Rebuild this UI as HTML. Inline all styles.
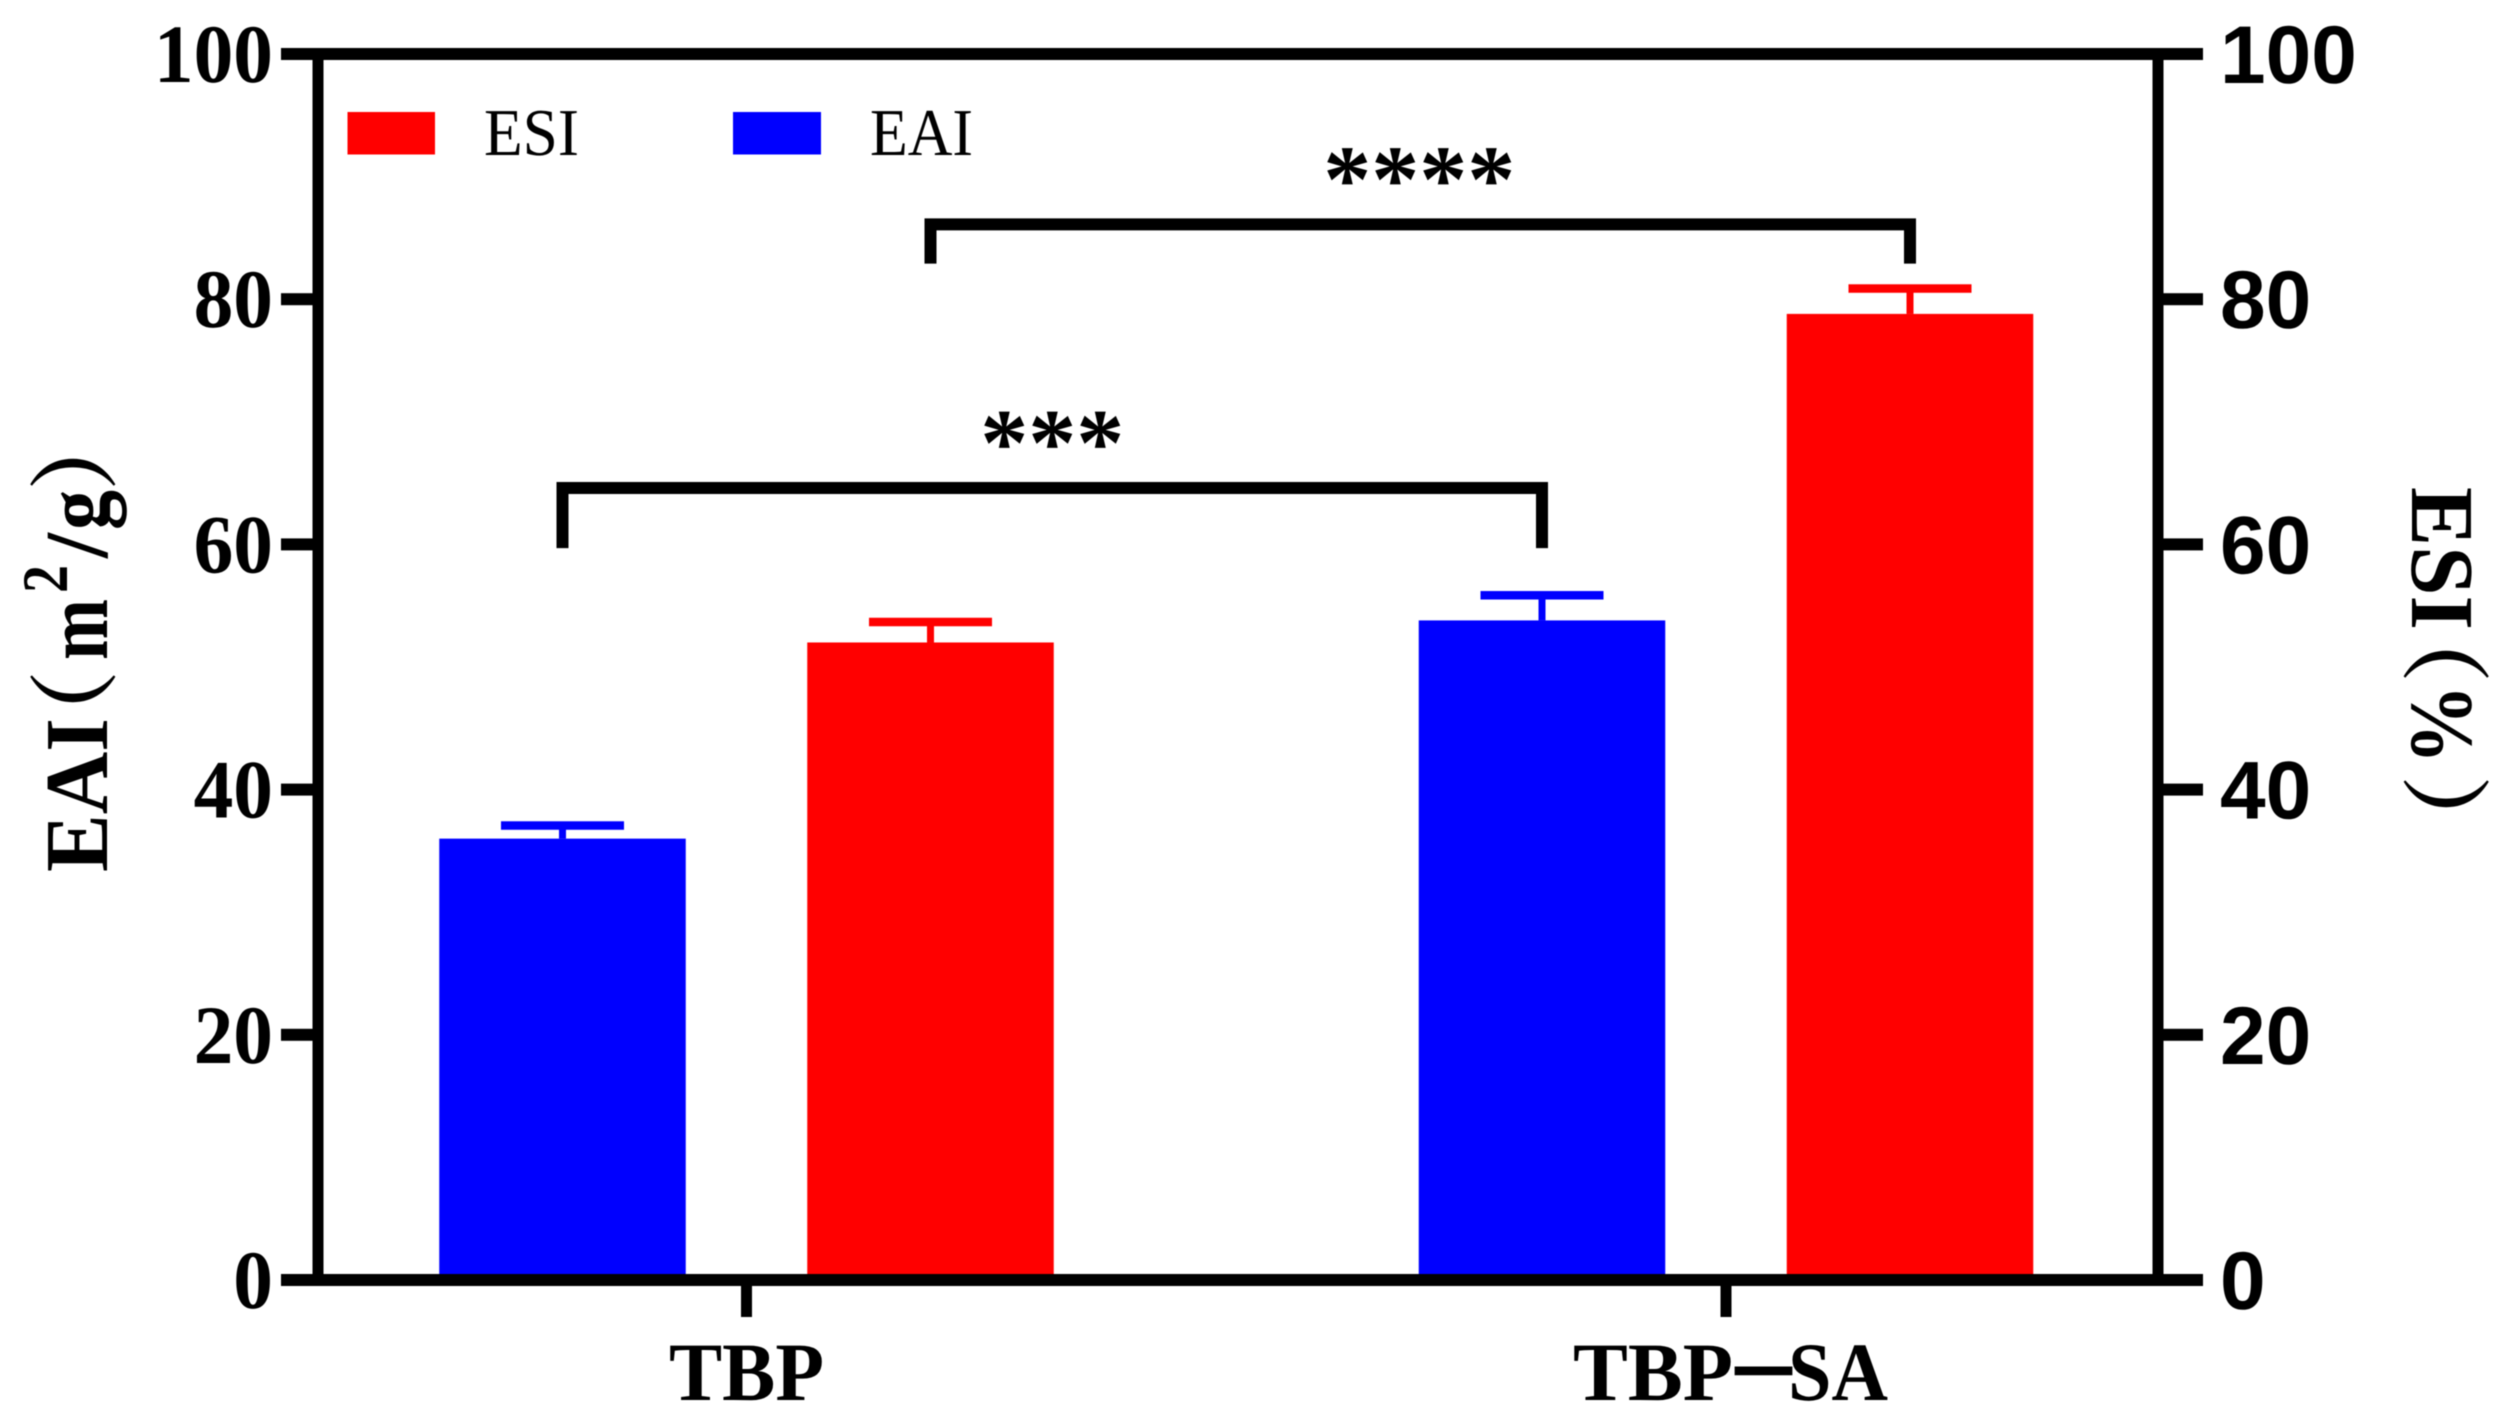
<!DOCTYPE html>
<html lang="en">
<head>
<meta charset="utf-8">
<title>EAI and ESI of TBP and TBP-SA</title>
<style>
html,body{margin:0;padding:0;background:#fff;}
svg{display:block;filter:blur(.6px);}
text{font-family:"Liberation Serif","Noto Serif CJK SC",serif;fill:#000;text-rendering:geometricPrecision;}
.b{font-weight:700;}
.sans{font-family:"Liberation Sans",sans-serif;font-weight:700;}
</style>
</head>
<body>
<svg id="chart" xmlns="http://www.w3.org/2000/svg" width="2499" height="1419" viewBox="0 0 2499 1419">
  <rect x="0" y="0" width="2499" height="1419" fill="#fff"/>
  <g id="bars"></g>
  <g id="axes"></g>
  <g id="brackets"></g>
  <g>
    <rect x="347.5" y="112" width="87.5" height="42.5" fill="#ff0000"/>
    <text x="484" y="155" font-size="67" textLength="95" lengthAdjust="spacingAndGlyphs">ESI</text>
    <rect x="733" y="112" width="88" height="42.5" fill="#0000ff"/>
    <text x="870" y="155" font-size="67" textLength="103" lengthAdjust="spacingAndGlyphs">EAI</text>
  </g>
  <text class="b" transform="translate(107,872) rotate(-90)" font-size="90"><tspan x="0" textLength="154" lengthAdjust="spacingAndGlyphs">EAI</tspan><tspan x="112">（</tspan><tspan x="212" textLength="61" lengthAdjust="spacingAndGlyphs">m</tspan><tspan x="279" y="-40" font-size="65" textLength="28" lengthAdjust="spacingAndGlyphs">2</tspan><tspan x="314" y="0">/</tspan><tspan x="342" textLength="40" lengthAdjust="spacingAndGlyphs">g</tspan><tspan x="381">）</tspan></text>
  <text class="b" transform="translate(2412,487) rotate(90)" font-size="90"><tspan x="0" textLength="143" lengthAdjust="spacingAndGlyphs">ESI</tspan><tspan x="106">（</tspan><tspan x="197" textLength="80" lengthAdjust="spacingAndGlyphs">%</tspan><tspan x="288">）</tspan></text>
</svg>
<script>
const categories = ["TBP", "TBP\u2014SA"];
const eaiValues = [36.0, 53.8];
const esiValues = [52.0, 78.8];
const eaiErrors = [1.07, 2.05];
const esiErrors = [1.67, 2.07];
const leftTicks = [0, 20, 40, 60, 80, 100];
const rightTicks = [0, 20, 40, 60, 80, 100];
const bracketStars = ["***", "****"];
const bracketLevels = [64.6, 86.1];
const bracketLegEnds = [59.7, 82.9];

const NS = "http://www.w3.org/2000/svg";
const BLUE = "#0000ff", RED = "#ff0000";
function yScale(v) { return 1280 - v * 12.26; }
function xCategory(i) { return 746.5 + i * 979.5; }
function xEai(i) { return xCategory(i) - 184; }
function xEsi(i) { return xCategory(i) + 184; }
function make(tag, attrs, parent, text) {
  const el = document.createElementNS(NS, tag);
  for (const k in attrs) el.setAttribute(k, attrs[k]);
  if (text !== undefined) el.textContent = text;
  parent.appendChild(el);
  return el;
}
const barsG = document.getElementById("bars");
const axesG = document.getElementById("axes");
const bracketsG = document.getElementById("brackets");
const BAR_W = 246.5, CAP_W = 123, CAP_T = 8.5, STEM_W = 7;

function drawBar(cx, value, err, color, name) {
  const bar = make("rect", {x: cx - BAR_W / 2, y: yScale(value), width: BAR_W, height: yScale(0) - yScale(value), fill: color}, barsG);
  
  
  const stem = make("rect", {x: cx - STEM_W / 2, y: yScale(value + err), width: STEM_W, height: yScale(value) - yScale(value + err), fill: color}, barsG);
  
  
  const cap = make("rect", {x: cx - CAP_W / 2, y: yScale(value + err) - CAP_T / 2, width: CAP_W, height: CAP_T, fill: color}, barsG);
  
  
}
categories.forEach(function (c, i) {
  const key = i === 0 ? 'tbp' : 'tbp-sa';
  drawBar(xEai(i), eaiValues[i], eaiErrors[i], BLUE, 'eai-' + key);
  drawBar(xEsi(i), esiValues[i], esiErrors[i], RED, 'esi-' + key);
});

/* axis frame */
const frameLeft = 318, frameRight = 2158, tickL = 281, tickR = 2203;
const leftLine = make("rect", {x: frameLeft - 5.5, y: yScale(100), width: 11, height: yScale(0) - yScale(100), fill: "#000"}, axesG);


const rightLine = make("rect", {x: frameRight - 5.5, y: yScale(100), width: 11, height: yScale(0) - yScale(100), fill: "#000"}, axesG);



leftTicks.forEach(function (t) {
  const tick = make("rect", {x: tickL, y: yScale(t) - 6, width: frameLeft - tickL, height: 12, fill: "#000"}, axesG);
  
  
  const lab = make("text", {x: 273, y: yScale(t) + 28, "font-size": 83, "text-anchor": "end", "class": "b", textLength: String(t).length * 39.7, lengthAdjust: "spacingAndGlyphs"}, axesG, String(t));
  
  
});
rightTicks.forEach(function (t) {
  const tick = make("rect", {x: frameRight, y: yScale(t) - 6, width: tickR - frameRight, height: 12, fill: "#000"}, axesG);
  
  
  const lab = make("text", {x: 2220, y: yScale(t) + 29, "font-size": 82, "class": "sans"}, axesG, String(t));
  
  
});
const topLine = make("rect", {x: tickL, y: yScale(100) - 6, width: tickR - tickL, height: 12, fill: "#000"}, axesG);


const bottomLine = make("rect", {x: tickL, y: yScale(0) - 6, width: tickR - tickL, height: 12, fill: "#000"}, axesG);



categories.forEach(function (c, i) {
  const key = i === 0 ? 'tbp' : 'tbp-sa';
  const tick = make("rect", {x: xCategory(i) - 5.5, y: yScale(0), width: 11, height: 37, fill: "#000"}, axesG);
  
  
  const lab = make("text", {y: 1400, "font-size": 83, "class": "b"}, axesG);
  
  
  const parts = c.split("\u2014");
  const cx = xCategory(i);
  if (parts.length === 1) {
    make("tspan", {x: cx - 77.5, textLength: 155, lengthAdjust: "spacingAndGlyphs"}, lab, parts[0]);
  } else {
    make("tspan", {x: cx - 153, textLength: 160, lengthAdjust: "spacingAndGlyphs"}, lab, parts[0]);
    make("tspan", {x: cx + 9, "font-size": 125, textLength: 57, lengthAdjust: "spacingAndGlyphs"}, lab, "\u2014");
    make("tspan", {x: cx + 62, textLength: 100, lengthAdjust: "spacingAndGlyphs"}, lab, parts[1]);
  }
});

/* significance brackets: [EAI TBP -> EAI TBP-SA], [ESI TBP -> ESI TBP-SA] */
bracketLevels.forEach(function (lvl, i) {
  const x0 = i === 0 ? xEai(0) : xEsi(0);
  const x1 = i === 0 ? xEai(1) : xEsi(1);
  const yTop = yScale(lvl), yLeg = yScale(bracketLegEnds[i]);
  const p = make("path", {d: "M" + x0 + " " + yLeg + "V" + yTop + "H" + x1 + "V" + yLeg, fill: "none", stroke: "#000", "stroke-width": 12, "stroke-linejoin": "miter"}, bracketsG);
  
  
  const s = make("text", {x: (x0 + x1) / 2 + (i === 0 ? 0 : -1), y: yTop - 13, "font-size": 96, "text-anchor": "middle", "class": "b"}, bracketsG, bracketStars[i]);
  
  
});
</script>
</body>
</html>
